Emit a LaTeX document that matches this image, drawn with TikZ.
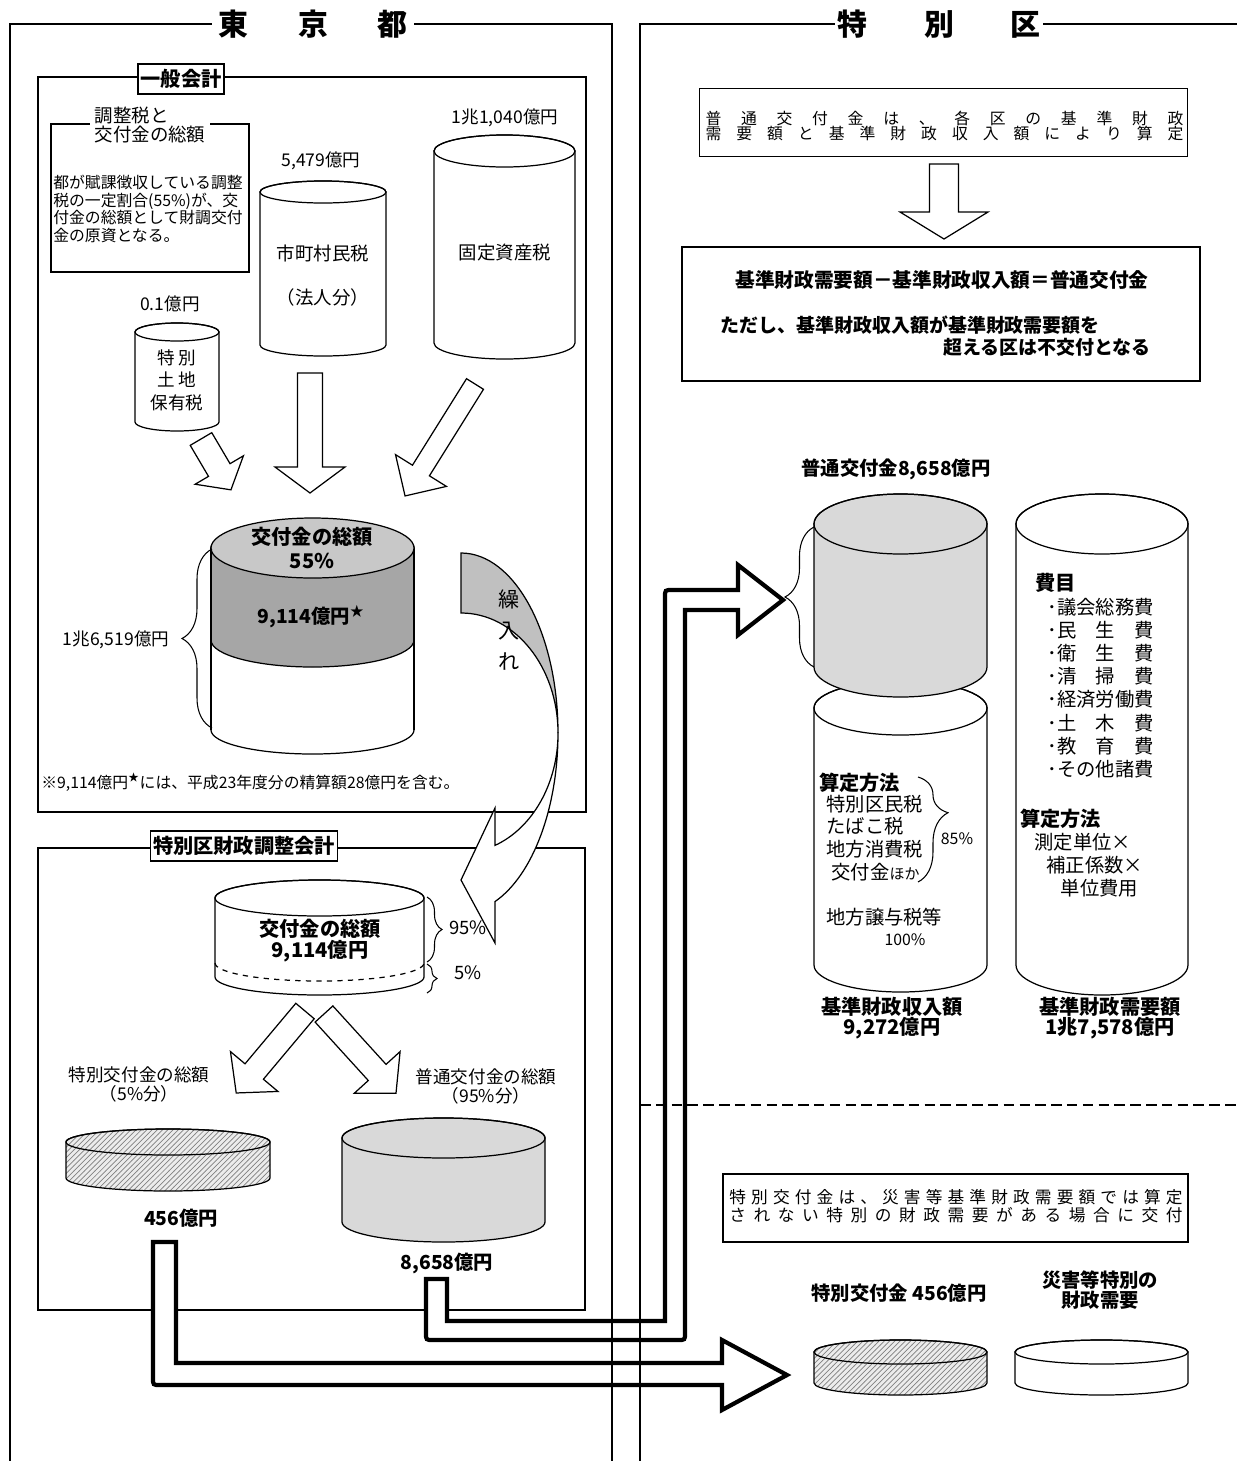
\documentclass[tikz,border=0pt]{standalone}
\usepackage{fontspec}
\setmainfont{Noto Sans CJK JP}
\usetikzlibrary{patterns, decorations.pathreplacing}
\definecolor{capgray}{RGB}{200,200,200}
\definecolor{bandgray}{RGB}{166,166,166}
\definecolor{drumgray}{RGB}{217,217,217}
\definecolor{ribbongray}{RGB}{192,192,192}
\tikzset{
  frameline/.style={line width=0.6pt},
  drumline/.style={line width=0.7pt},
  hollow/.style={draw, fill=white, line width=0.7pt, line join=miter},
  bentarrow/.style={draw, fill=white, line width=2.4pt, line join=miter},
  txt/.style={inner sep=0pt, font=\fontsize{10}{12}\selectfont},
  btxt/.style={inner sep=0pt, font=\fontsize{11}{13}\selectfont\bfseries},
  acctag/.style={draw, fill=white, line width=0.7pt, inner sep=1.5pt,
    minimum height=17pt, font=\fontsize{11.5}{13}\selectfont\bfseries},
  textbox/.style={draw, line width=0.7pt, inner sep=0pt},
  bigtitle/.style={fill=white, inner ysep=2pt, font=\fontsize{17}{19}\selectfont\bfseries},
  brc/.style={decorate, decoration={brace, amplitude=#1}, line width=0.6pt}
}
% cylinder: [style]{cx}{top y}{bottom y}{x radius}{y radius}
\newcommand{\drum}[6][fill=white]{%
  \path[draw, drumline, #1] (#2-#5,#3) -- (#2-#5,#4)
    arc[start angle=180, end angle=0, x radius=#5, y radius=#6]
    -- (#2+#5,#3)
    arc[start angle=0, end angle=-180, x radius=#5, y radius=#6] -- cycle;
  \draw[drumline] (#2,#3) ellipse[x radius=#5, y radius=#6];}
% block arrow: {tail x,y}{angle}{length}{shaft half}{head half}{head length}
\newcommand{\fatarrow}[6]{%
  \draw[hollow, shift={(#1)}, rotate=#2]
    (0,-#4) -- ({#3-#6},-#4) -- ({#3-#6},-#5) -- (#3,0)
    -- ({#3-#6},#5) -- ({#3-#6},#4) -- (0,#4) -- cycle;}

\begin{document}
\begin{tikzpicture}[x=0.02cm, y=-0.02cm]
  \useasboundingbox (0,0) rectangle (1238,1461);
  % ---------------- Tokyo side ----------------
  \draw[frameline] (38,77) rectangle (586,812);
  \draw[frameline] (38,848) rectangle (585,1310);
  % adjustment tax note
  \draw[line width=1.5pt] (51,124) rectangle (249,272);
  \node[txt, fill=white, align=left, anchor=west, inner xsep=2.5pt,
    font=\fontsize{10.5}{11.3}\selectfont] (choseititle) at (90,125) {調整税と\\交付金の総額};
  \node[txt, align=left, anchor=west, font=\fontsize{9}{10.2}\selectfont] (choseibody) at (53,209)
    {都が賦課徴収している調整\\税の一定割合(55\%)が、交\\付金の総額として財調交付\\金の原資となる。};
  % tax cylinders
  \drum{323}{192}{345}{63}{11}
  \drum{504.5}{151}{343}{70.5}{16}
  \drum{177}{332}{422}{42}{9}
  \node[txt] (amtshi) at (321,161) {5,479億円};
  \node[txt] (amtkotei) at (505,118) {1兆1,040億円};
  \node[txt] (amttochi) at (170,304) {0.1億円};
  \node[txt, font=\fontsize{10.5}{12}\selectfont] (shichoson) at (323,253) {市町村民税};
  \node[txt, font=\fontsize{10.5}{12}\selectfont] (hojin) at (323,297) {（法人分）};
  \node[txt, font=\fontsize{10.5}{12}\selectfont] (kotei) at (505,253) {固定資産税};
  \node[txt, align=center, font=\fontsize{10}{12.8}\selectfont] (tochi) at (177,380) {特\,別\\土\,地\\保有税};
  % arrows into the pool
  \fatarrow{201,439}{-59.5}{59}{12.5}{28}{23}
  \fatarrow{310,373}{-90}{120}{12.5}{35}{26}
  \fatarrow{475,384}{-122}{132}{10}{30}{30}
  % grant pool 55%
  \drum{312.5}{548}{730}{101.5}{24}
  \fill[bandgray] (211,548) -- (211,640) arc[start angle=180, end angle=0, x radius=101.5, y radius=27] -- (414,548) -- cycle;
  \draw[drumline] (211,548) -- (211,730) (414,548) -- (414,730);
  \draw[drumline] (211,640) arc[start angle=180, end angle=0, x radius=101.5, y radius=27];
  \draw[drumline, fill=capgray] (312.5,548) ellipse[x radius=101.5, y radius=30];
  \node[btxt, align=center, font=\fontsize{11.5}{13.6}\selectfont\bfseries] (sogaku) at (312,548) {交付金の総額\\55\%};
  \node[btxt, font=\fontsize{11}{13}\selectfont\bfseries] (amtpool) at (311,617) {9,114億円\textsuperscript{★}};
  \draw[brc=0.6cm] (212,728) -- (212,549);
  \node[txt] (amtkei) at (116,640) {1兆6,519億円};
  \node[txt, anchor=west, font=\fontsize{9}{11}\selectfont] (note) at (41,782)
    {※9,114億円\textsuperscript{★}には、平成23年度分の精算額28億円を含む。};
  % transfer ribbon
  \filldraw[drumline, fill=ribbongray] (461,553) arc[start angle=-90, end angle=0, x radius=97, y radius=180]
    arc[start angle=0, end angle=-90, x radius=97, y radius=120] -- cycle;
  \filldraw[drumline, fill=white] (558,733) arc[start angle=0, end angle=69.5, x radius=97, y radius=180]
    -- (495,943) -- (461,880) -- (495,808) -- (495,845.4)
    arc[start angle=69.5, end angle=0, x radius=97, y radius=120] -- cycle;
  \node[txt, align=center, font=\fontsize{12}{17.6}\selectfont] (kuriire) at (509,630) {繰\\入\\れ};
  \node[acctag] (ippan) at (181,79) {一般会計};
  \node[acctag] (zaicho) at (244,846) {特別区財政調整会計};
  % adjustment account
  \drum{319.5}{898}{977}{104.5}{18}
  \draw[drumline, dashed] (215,963) arc[start angle=180, end angle=0, x radius=104.5, y radius=18];
  \node[btxt, align=center, font=\fontsize{11.5}{12}\selectfont\bfseries] (sogaku2) at (320,941) {交付金の総額\\9,114億円};
  \draw[brc=0.3cm] (427,897) -- (427,962);
  \draw[brc=0.2cm] (427,964) -- (427,993);
  \node[txt, font=\fontsize{10.5}{12}\selectfont] (pct95) at (468,928) {95\%};
  \node[txt, font=\fontsize{10.5}{12}\selectfont] (pct5) at (468,973) {5\%};
  \fatarrow{305,1011}{-130}{107}{12}{31}{28}
  \fatarrow{324,1014}{-47.7}{107}{12}{31}{28}
  \node[txt, align=center, font=\fontsize{10}{10.8}\selectfont] (tokusogaku) at (139,1084) {特別交付金の総額\\（5\%分）};
  \node[txt, align=center, font=\fontsize{10}{10.8}\selectfont] (futsusogaku) at (486,1086) {普通交付金の総額\\（95\%分）};
  \drum[pattern=north east lines, pattern color=gray, preaction={fill=gray!15}]{168}{1142}{1178}{102}{13}
  \drum[fill=drumgray]{443.5}{1138}{1222}{101.5}{20}
  \node[btxt] (amt456) at (181,1218) {456億円};
  \node[btxt] (amt8658) at (447,1263) {8,658億円};
  % transfers to the wards
  \draw[bentarrow] (426,1279) -- (447,1279) -- (447,1321) -- (665,1321) -- (665,597)
    .. controls (665,590) .. (672,590) -- (738,590) -- (738,565) -- (783,600) -- (738,635)
    -- (738,610) -- (685,610) -- (685,1333) .. controls (685,1340) .. (678,1340)
    -- (433,1340) .. controls (426,1340) .. (426,1333) -- cycle;
  \draw[bentarrow] (153,1242) -- (176,1242) -- (176,1363) -- (722,1363) -- (722,1340)
    -- (787,1375) -- (722,1410) -- (722,1385) -- (160,1385) .. controls (153,1385) .. (153,1378) -- cycle;
  % ---------------- ward side ----------------
  \node[textbox, minimum width=278pt, minimum height=39pt] (kijun) at (943.5,122.5) {};
  \node[txt, font=\fontsize{9}{10}\selectfont] (kijun1) at (944.5,118.5)
    {\makebox[272pt]{普\hfill 通\hfill 交\hfill 付\hfill 金\hfill は\hfill 、\hfill 各\hfill 区\hfill の\hfill 基\hfill 準\hfill 財\hfill 政}};
  \node[txt, font=\fontsize{9}{10}\selectfont] (kijun2) at (944.5,133)
    {\makebox[272pt]{需\hfill 要\hfill 額\hfill と\hfill 基\hfill 準\hfill 財\hfill 政\hfill 収\hfill 入\hfill 額\hfill に\hfill よ\hfill り\hfill 算\hfill 定}};
  \fatarrow{944,164}{-90}{75}{14.5}{44}{27}
  \node[textbox, minimum width=294.8pt, minimum height=76.2pt] (formulabox) at (941,314) {};
  \node[btxt, font=\fontsize{11.2}{13}\selectfont\bfseries] (formula) at (942,280) {基準財政需要額－基準財政収入額＝普通交付金};
  \node[btxt, anchor=west, font=\fontsize{10.8}{13}\selectfont\bfseries] (tadashi1) at (720,325) {ただし、基準財政収入額が基準財政需要額を};
  \node[btxt, anchor=east, font=\fontsize{10.8}{13}\selectfont\bfseries] (tadashi2) at (1151,347) {超える区は不交付となる};
  % revenue and need cylinders
  \node[btxt] (futsu8658) at (896,469) {普通交付金8,658億円};
  \drum{900.5}{708}{965}{86.5}{27}
  \drum[fill=drumgray]{900.5}{524}{667}{86.5}{30}
  \drum{1102}{524}{965}{86}{30}
  \draw[brc=0.58cm] (814,667) -- (814,527);
  \node[btxt, anchor=west, font=\fontsize{11.5}{13}\selectfont\bfseries] (santei1) at (819,783) {算定方法};
  \node[txt, align=left, anchor=west, font=\fontsize{11}{13}\selectfont] (zeimoku) at (826,838)
    {特別区民税\\たばこ税\\地方消費税\\\hspace*{3pt}交付金{\fontsize{8.5}{13}\selectfont ほか}};
  \draw[decorate, decoration={brace, amplitude=0.6cm, aspect=0.34}, line width=0.6pt] (918,777) -- (918,882);
  \node[txt, font=\fontsize{9}{11}\selectfont] (pct85) at (957,839) {85\%};
  \node[txt, anchor=west, font=\fontsize{11}{13}\selectfont] (joyo) at (826,917) {地方譲与税等};
  \node[txt, font=\fontsize{9}{11}\selectfont] (pct100) at (905,940) {100\%};
  \node[btxt, align=center, font=\fontsize{11.5}{11.4}\selectfont\bfseries] (shunyu) at (892,1018) {基準財政収入額\\9,272億円};
  \node[btxt, align=center, font=\fontsize{11.5}{11.4}\selectfont\bfseries] (juyo) at (1110,1018) {基準財政需要額\\1兆7,578億円};
  \node[btxt, anchor=west, font=\fontsize{11.5}{13}\selectfont\bfseries] (himoku) at (1035,583) {費目};
  \node[txt, align=left, anchor=west, font=\fontsize{11}{13.2}\selectfont] (himokulist) at (1047,688)
    {･議会総務費\\･民　生　費\\･衛　生　費\\･清　掃　費\\･経済労働費\\･土　木　費\\･教　育　費\\･その他諸費};
  \node[btxt, anchor=west, font=\fontsize{11.5}{13}\selectfont\bfseries] (santei2) at (1020,819) {算定方法};
  \node[txt, align=left, anchor=west, font=\fontsize{11}{13}\selectfont] (santeishiki) at (1034,865)
    {測定単位×\\\hspace*{7pt}補正係数×\\\hspace*{15pt}単位費用};
  % special grant
  \node[textbox, minimum width=264.6pt, minimum height=38.7pt] (tokubox) at (955.5,1208) {};
  \node[txt, font=\fontsize{9.5}{10}\selectfont] (tokubox1) at (956,1197)
    {\makebox[258pt]{特\hfill 別\hfill 交\hfill 付\hfill 金\hfill は\hfill 、\hfill 災\hfill 害\hfill 等\hfill 基\hfill 準\hfill 財\hfill 政\hfill 需\hfill 要\hfill 額\hfill で\hfill は\hfill 算\hfill 定}};
  \node[txt, font=\fontsize{9.5}{10}\selectfont] (tokubox2) at (956,1215)
    {\makebox[258pt]{さ\hfill れ\hfill な\hfill い\hfill 特\hfill 別\hfill の\hfill 財\hfill 政\hfill 需\hfill 要\hfill が\hfill あ\hfill る\hfill 場\hfill 合\hfill に\hfill 交\hfill 付}};
  \node[btxt] (toku456) at (899,1293) {特別交付金 456億円};
  \node[btxt, align=center, font=\fontsize{11}{11.4}\selectfont\bfseries] (saigai) at (1100,1290) {災害等特別の\\財政需要};
  \drum[pattern=north east lines, pattern color=gray, preaction={fill=gray!15}]{900.5}{1352}{1383}{86.5}{12}
  \drum{1101.5}{1352}{1383}{86.5}{12}
  % outer frames
  \draw[frameline] (10,1461) -- (10,24) -- (612,24) -- (612,1461);
  \draw[frameline] (640,1461) -- (640,24) -- (1237,24);
  \draw[frameline, dash pattern=on 6pt off 3pt] (640,1105) -- (1238,1105);
  \node[bigtitle, inner xsep=3.7pt] (tokyo) at (313,24) {\makebox[108pt]{東\hfill 京\hfill 都}};
  \node[bigtitle, inner xsep=1.6pt] (tokubetsuku) at (939,24) {\makebox[115pt]{特\hfill 別\hfill 区}};
\end{tikzpicture}
\end{document}
